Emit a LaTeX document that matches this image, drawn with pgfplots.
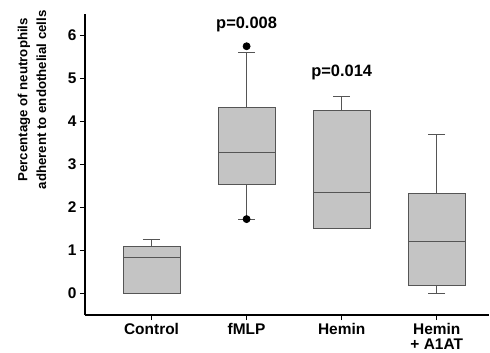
\documentclass[border=0pt]{standalone}
\usepackage{fontspec}
\setmainfont{Liberation Sans}
\usepackage{pgfplots}
\usepgfplotslibrary{statistics}
\pgfplotsset{compat=1.18}
\definecolor{boxfill}{HTML}{C4C4C4}
\definecolor{boxline}{HTML}{555555}
\begin{document}
\begin{tikzpicture}
\begin{axis}[
  scale only axis, width=404bp, height=301bp,
  xmin=0.3, xmax=4.55, ymin=-0.5, ymax=6.5,
  axis lines=left, axis line style={-, line width=1.2bp, black},
  xtick={1,2,3,4},
  xticklabels={Control, fMLP, Hemin, {Hemin\\+ A1AT}},
  xticklabel style={align=center, font=\fontsize{15.5}{15}\selectfont\bfseries},
  ytick={0,1,2,3,4,5,6},
  yticklabel style={font=\fontsize{15.5}{16}\selectfont\bfseries},
  /pgf/number format/assume math mode=true,
  tick align=outside, major tick length=5bp, tick style={black, line width=0.6bp},
  ylabel={Percentage of neutrophils\\adherent to endothelial cells},
  ylabel style={align=center, font=\fontsize{13.3}{19}\selectfont\bfseries,
    at={(axis description cs:-0.087,0.715)}, anchor=south},
  boxplot/draw direction=y,
  boxplot/box extend=0.6, boxplot/whisker extend=0.18,
  clip=false,
]
\addplot[draw=boxline, fill=boxfill, line width=0.8bp,
  boxplot prepared={draw position=1, lower whisker=0, lower quartile=0,
    median=0.84, upper quartile=1.10, upper whisker=1.26}] coordinates {};
\addplot[draw=boxline, fill=boxfill, line width=0.8bp,
  mark=*, mark size=3.5bp, mark options={draw=black, fill=black},
  boxplot prepared={draw position=2, lower whisker=1.73, lower quartile=2.54,
    median=3.29, upper quartile=4.32, upper whisker=5.61}]
  table[row sep=\\, y index=0] {5.75\\ 1.73\\};
\addplot[draw=boxline, fill=boxfill, line width=0.8bp,
  boxplot prepared={draw position=3, lower whisker=1.52, lower quartile=1.52,
    median=2.36, upper quartile=4.26, upper whisker=4.59}] coordinates {};
\addplot[draw=boxline, fill=boxfill, line width=0.8bp,
  boxplot prepared={draw position=4, lower whisker=0.0, lower quartile=0.18,
    median=1.22, upper quartile=2.32, upper whisker=3.70}] coordinates {};
\node[font=\fontsize{16.5}{18}\selectfont\bfseries] at (axis cs:2,6.26) {p=0.008};
\node[font=\fontsize{16.5}{18}\selectfont\bfseries] at (axis cs:3,5.13) {p=0.014};
\end{axis}
\pgfresetboundingbox
\path[use as bounding box] ([shift={(-85bp,-38bp)}]current axis.south west) rectangle ([shift={(1bp,14bp)}]current axis.north east);
\end{tikzpicture}
\end{document}
